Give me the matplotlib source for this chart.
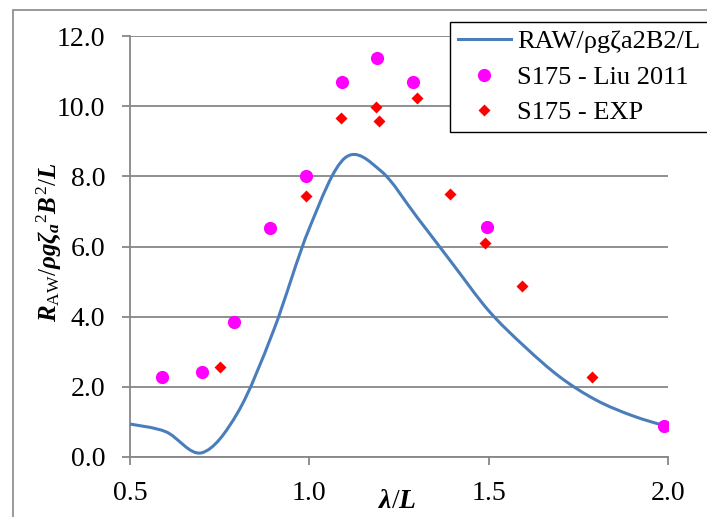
import matplotlib
matplotlib.use("Agg")
import matplotlib.pyplot as plt
from matplotlib.patches import Rectangle, PathPatch
from matplotlib.path import Path
from matplotlib.lines import Line2D

plt.rcParams['font.family'] = ['Liberation Serif', 'DejaVu Serif']
plt.rcParams['mathtext.fontset'] = 'custom'
plt.rcParams['mathtext.rm'] = 'Liberation Serif'
plt.rcParams['mathtext.it'] = 'Liberation Serif:italic:bold'
plt.rcParams['mathtext.bf'] = 'Liberation Serif:bold'

# RAW curve
raw_x = [0.5, 0.6, 0.7, 0.8, 0.9, 1.0, 1.1, 1.2, 1.3, 1.4, 1.5, 1.6, 1.7, 1.8, 1.9, 2.0]
raw_y = [0.94, 0.72, 0.12, 1.26, 3.60, 6.52, 8.53, 8.15, 6.84, 5.50, 4.17, 3.15,
         2.27, 1.62, 1.18, 0.86]

# S175 - Liu 2011
liu_x = [0.59, 0.70, 0.79, 0.89, 0.99, 1.09, 1.19, 1.29, 1.495, 1.99]
liu_y = [2.29, 2.43, 3.86, 6.53, 8.01, 10.69, 11.37, 10.69, 6.57, 0.89]

# S175 - EXP
exp_x = [0.75, 0.99, 1.087, 1.187, 1.195, 1.30, 1.392, 1.49, 1.593, 1.788]
exp_y = [2.57, 7.44, 9.65, 9.99, 9.59, 10.22, 7.49, 6.09, 4.86, 2.29]

x_ticks = [0.5, 1.0, 1.5, 2.0]
y_ticks = [0, 2, 4, 6, 8, 10, 12]

fig = plt.figure(figsize=(7.07, 5.17), dpi=100)
ax = fig.add_axes([130/707, 1-457/517, (668-130)/707, (457-36)/517])

grey = '#878787'
line_color = '#4A7EBB'

# smoothed line (Excel-style) through the RAW points, drawn as Bezier path
n = len(raw_x)
verts = [(raw_x[0], raw_y[0])]
codes = [Path.MOVETO]
for i in range(n - 1):
    i0 = max(i - 1, 0)
    i3 = min(i + 2, n - 1)
    c1 = (raw_x[i] + (raw_x[i + 1] - raw_x[i0]) / 6, raw_y[i] + (raw_y[i + 1] - raw_y[i0]) / 6)
    c2 = (raw_x[i + 1] - (raw_x[i3] - raw_x[i]) / 6, raw_y[i + 1] - (raw_y[i3] - raw_y[i]) / 6)
    verts += [c1, c2, (raw_x[i + 1], raw_y[i + 1])]
    codes += [Path.CURVE4] * 3
ax.add_patch(PathPatch(Path(verts, codes), fill=False, edgecolor=line_color, lw=2.2,
                       zorder=3, capstyle='round'))
raw_handle = Line2D([], [], color=line_color, lw=2.2, label='RAW/ρgζa2B2/L')

liu_line, = ax.plot(liu_x, liu_y, 'o', color='#FF00FF', ms=9.5, mec='none',
                    label='S175 - Liu 2011', zorder=4)
exp_line, = ax.plot(exp_x, exp_y, 'D', color='#FF0000', ms=6.3, mec='none',
                    label='S175 - EXP', zorder=4)

ax.set_xlim(0.5, 2.0)
ax.set_ylim(0, 12)
ax.set_xticks(x_ticks)
ax.set_xticklabels([f'{v:.1f}' for v in x_ticks])
ax.set_yticks(y_ticks)
ax.set_yticklabels([f'{v:.1f}' for v in y_ticks])
ax.yaxis.grid(True, color=grey, lw=1.3)
ax.set_axisbelow(True)
for s in ['top', 'right']:
    ax.spines[s].set_visible(False)
for s in ['left', 'bottom']:
    ax.spines[s].set_color(grey)
    ax.spines[s].set_linewidth(1.3)
ax.tick_params(axis='both', colors=grey, labelcolor='black', labelsize=20,
               length=6, width=1.3, direction='out')
ax.tick_params(axis='y', pad=12)
ax.tick_params(axis='x', pad=11)

ax.set_xlabel(r'$\lambda/L$', fontsize=20)
ax.xaxis.set_label_coords(0.497, -0.075)
ax.set_ylabel(r'$R_{\mathrm{AW}}/\rho g\zeta_a{}^2B^2/L$', fontsize=18)
ax.yaxis.set_label_coords(-0.122, 0.51)

leg = fig.legend(handles=[raw_handle, liu_line, exp_line], loc='upper left',
                 bbox_to_anchor=(450/707, 1-22/517), fontsize=19,
                 frameon=True, fancybox=False, framealpha=1, edgecolor='black',
                 handlelength=2.0, handletextpad=0.25, labelspacing=0.45,
                 borderpad=0.3, borderaxespad=0)
leg.get_frame().set_linewidth(1.0)

fig.patches.append(Rectangle((13/707, -0.05), 1.2, 1-10/517+0.05, transform=fig.transFigure,
                             fill=False, edgecolor=grey, lw=1.2))

fig.savefig('out.png', dpi=100)
